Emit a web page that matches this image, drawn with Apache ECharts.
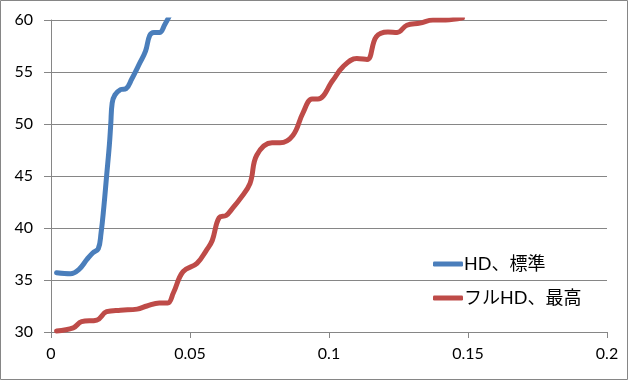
<!DOCTYPE html>
<html><head><meta charset="utf-8">
<script src="https://cdn.jsdelivr.net/npm/echarts@6/dist/echarts.min.js"></script>
<style>html,body{margin:0;padding:0;background:#fff}#c{width:630px;height:382px}</style>
</head><body><div id="c"></div>
<script>
const seriesNames = ['HD、標準', 'フルHD、最高'];
const xTickLabels = ['0', '0.05', '0.1', '0.15', '0.2'];
const yTickLabels = ['30', '35', '40', '45', '50', '55', '60'];
const hdStandard = [
  [0.002,35.7],[0.007,35.6],[0.010,36.0],[0.013,37.0],[0.015,37.6],[0.017,38.0],
  [0.018,39.5],[0.019,42.0],[0.020,45.0],[0.021,48.0],[0.0215,50.0],[0.022,52.0],
  [0.023,52.8],[0.025,53.3],[0.027,53.4],[0.029,54.3],[0.032,55.9],[0.034,57.0],
  [0.0355,58.5],[0.037,58.8],[0.039,58.8],[0.041,59.6],[0.043,60.6]
];
const fullHdMax = [
  [0.002,30.1],[0.008,30.4],[0.011,31.0],[0.0165,31.15],[0.020,31.95],[0.025,32.1],
  [0.031,32.2],[0.0345,32.5],[0.039,32.8],[0.042,32.8],[0.044,33.75],[0.0475,35.8],
  [0.0525,36.6],[0.056,37.9],[0.058,38.8],[0.0605,41.0],[0.063,41.2],[0.065,41.8],
  [0.068,42.8],[0.0716,44.3],[0.074,47.0],[0.0795,48.2],[0.0824,48.2],[0.087,48.9],
  [0.0906,51.05],[0.0939,52.4],[0.096,52.4],[0.1014,54.2],[0.105,55.5],[0.110,56.3],
  [0.1137,56.2],[0.117,58.4],[0.1212,58.85],[0.1245,58.8],[0.128,59.5],[0.1327,59.7],
  [0.1374,60.0],[0.142,60.0],[0.148,60.2]
];
const chart = echarts.init(document.getElementById('c'));
const font = 'Lato, "Noto Sans CJK JP", sans-serif';
chart.setOption({
  animation: false,
  graphic: [{type:'rect', shape:{x:0.5,y:0.5,width:627,height:379}, style:{fill:'none', stroke:'#868686', lineWidth:1}, silent:true}],
  grid: {left: 51, right: 23, top: 20, bottom: 50},
  legend: {
    orient: 'vertical', left: 428, top: 250, itemGap: 16,
    itemWidth: 30, itemHeight: 5, icon: 'roundRect',
    textStyle: {fontFamily: font, fontSize: 18, color: '#000', padding:[0,0,0,-4]},
    data: seriesNames
  },
  xAxis: {
    type: 'value', min: 0, max: 0.2, interval: 0.05,
    axisLine: {show: true, lineStyle: {color: '#868686'}},
    axisTick: {show: true, length: 6, lineStyle: {color: '#868686'}},
    splitLine: {show: false},
    axisLabel: {margin: 14, fontFamily: font, fontSize: 16, color: '#000',
      formatter: (v) => xTickLabels[Math.round(v / 0.05)]}
  },
  yAxis: {
    type: 'value', min: 30, max: 60, interval: 5,
    axisLine: {show: true, lineStyle: {color: '#868686'}},
    axisTick: {show: true, length: 7, lineStyle: {color: '#868686'}},
    splitLine: {show: true, lineStyle: {color: '#868686', width: 1}},
    axisLabel: {margin: 18, fontFamily: font, fontSize: 16, color: '#000',
      formatter: (v) => yTickLabels[Math.round((v - 30) / 5)]}
  },
  series: [
    {name: seriesNames[0], type: 'line', data: hdStandard, smooth: 0.4, showSymbol: false,
     clip: true, lineStyle: {width: 5, color: '#4a7ebb', cap: 'round'}, itemStyle: {color: '#4a7ebb'}},
    {name: seriesNames[1], type: 'line', data: fullHdMax, smooth: 0.4, showSymbol: false,
     clip: true, lineStyle: {width: 5, color: '#be4b48', cap: 'round'}, itemStyle: {color: '#be4b48'}}
  ]
});
</script></body></html>
